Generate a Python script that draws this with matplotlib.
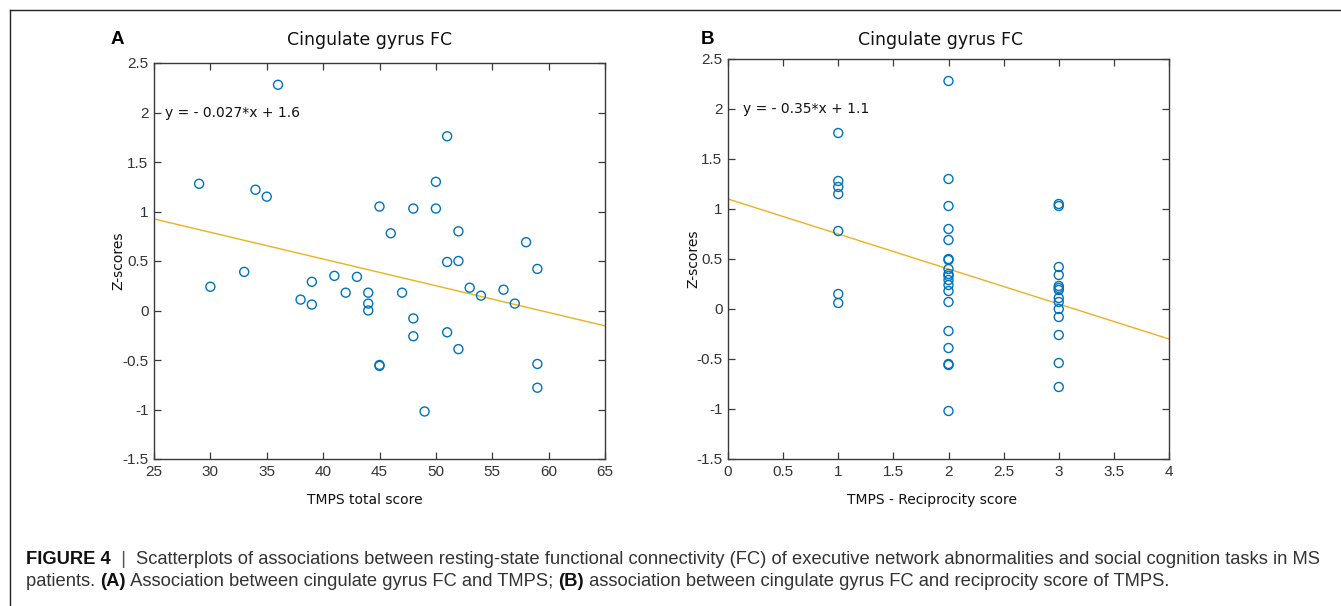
import matplotlib
matplotlib.use('Agg')
import matplotlib.pyplot as plt
from matplotlib.lines import Line2D

# data
total_score = [29, 30, 33, 34, 35, 36, 38, 39, 39, 41, 42, 43, 44, 44, 44, 45, 45, 45, 46, 47,
               48, 48, 48, 49, 50, 50, 51, 51, 51, 52, 52, 52, 53, 54, 56, 57, 58, 59, 59, 59]
z_total = [1.28, 0.24, 0.39, 1.22, 1.15, 2.28, 0.11, 0.29, 0.06, 0.35, 0.18, 0.34, 0.18, 0.07, 0.00,
           1.05, -0.55, -0.56, 0.78, 0.18, 1.03, -0.08, -0.26, -1.02, 1.30, 1.03, 1.76, 0.49, -0.22,
           0.80, 0.50, -0.39, 0.23, 0.15, 0.21, 0.07, 0.69, 0.42, -0.54, -0.78]

recip_score = [1] * 7 + [2] * 19 + [3] * 14
z_recip = [1.76, 1.28, 1.22, 1.15, 0.78, 0.15, 0.06,
           2.28, 1.30, 1.03, 0.80, 0.69, 0.50, 0.49, 0.40, 0.35, 0.33, 0.29, 0.24, 0.18, 0.07,
           -0.22, -0.39, -0.55, -0.56, -1.02,
           1.05, 1.03, 0.42, 0.34, 0.23, 0.21, 0.19, 0.11, 0.07, 0.00, -0.08, -0.26, -0.54, -0.78]

fit_a = (-0.027, 1.6)
fit_b = (-0.35, 1.1)

W, H = 1341, 606
fig = plt.figure(figsize=(W / 100, H / 100), dpi=100)

blue = '#0072BD'
gold = '#EDB120'
axcol = '#3a3a3a'


def px_axes(x0, y0, x1, y1):
    return fig.add_axes([x0 / W, 1 - y1 / H, (x1 - x0) / W, (y1 - y0) / H])


def style(ax, xlim, xticks):
    ax.set_xlim(*xlim)
    ax.set_ylim(-1.5, 2.5)
    ax.set_xticks(xticks)
    ax.set_yticks([-1.5, -1, -0.5, 0, 0.5, 1, 1.5, 2, 2.5])
    ax.set_xticklabels(['%g' % t for t in xticks])
    ax.set_yticklabels(['-1.5', '-1', '-0.5', '0', '0.5', '1', '1.5', '2', '2.5'])
    ax.tick_params(direction='in', top=True, right=True, length=5, width=0.9,
                   colors=axcol, labelsize=11, pad=4)
    for lab in ax.get_xticklabels() + ax.get_yticklabels():
        lab.set_family('Liberation Sans')
        lab.set_color('#333333')
    for s in ax.spines.values():
        s.set_color(axcol)
        s.set_linewidth(1.0)


def panel(ax, x, y, fit, xlim, xticks, xlabel, eq_x, lx):
    a, b = fit
    ax.plot(list(xlim), [a * xlim[0] + b, a * xlim[1] + b], color=gold, lw=1.0, zorder=1)
    ax.scatter(x, y, s=42, facecolors='none', edgecolors=blue, linewidths=1.0, zorder=2)
    style(ax, xlim, xticks)
    eq = 'y = - %g*x + %g' % (-a, b)
    ax.text(eq_x, 2.0, eq, fontsize=10, va='center', ha='left', color='#111111')
    ax.set_xlabel(xlabel, fontsize=10, color='#111111')
    ax.xaxis.set_label_coords(lx, -0.085)
    ax.set_ylabel('Z-scores', fontsize=10, color='#111111')
    ax.yaxis.set_label_coords(-0.063, 0.5)


axA = px_axes(154, 63, 605, 459)
panel(axA, total_score, z_total, fit_a, (25, 65), list(range(25, 70, 5)),
      'TMPS total score', 26, 0.468)

axB = px_axes(728, 59, 1169, 459)
panel(axB, recip_score, z_recip, fit_b, (0, 4), [0, 0.5, 1, 1.5, 2, 2.5, 3, 3.5, 4],
      'TMPS - Reciprocity score', 0.14, 0.463)

for tx in (370, 941):
    fig.text(tx / W, 1 - 40 / H, 'Cingulate gyrus FC', fontsize=12.5, color='#111111',
             ha='center', va='center')

fig.text(117 / W, 1 - 40 / H, 'A', fontsize=13.5, fontweight='bold', family='Liberation Sans',
         ha='center', va='center')
fig.text(708 / W, 1 - 40 / H, 'B', fontsize=13.5, fontweight='bold', family='Liberation Sans',
         ha='center', va='center')

# frame lines round the figure
fig.add_artist(Line2D([9.5 / W, 1], [1 - 10 / H, 1 - 10 / H], transform=fig.transFigure,
                      color='#222222', lw=1.0))
fig.add_artist(Line2D([9.5 / W, 9.5 / W], [1 - 10 / H, 0], transform=fig.transFigure,
                      color='#222222', lw=1.0))

# caption, with bold pieces
cap_font = 'Liberation Sans'
lines = [
    [('FIGURE 4', 'bold', '#111111'), ('  |  ', 'normal', '#555555'),
     ('Scatterplots of associations between resting-state functional connectivity (FC) of '
      'executive network abnormalities and social cognition tasks in MS', 'normal', '#333333')],
    [('patients. ', 'normal', '#333333'), ('(A)', 'bold', '#111111'),
     (' Association between cingulate gyrus FC and TMPS; ', 'normal', '#333333'),
     ('(B)', 'bold', '#111111'),
     (' association between cingulate gyrus FC and reciprocity score of TMPS.', 'normal', '#333333')],
]
line_y = [559, 582]

fig.canvas.draw()
renderer = fig.canvas.get_renderer()


def draw_line(parts, yy, size):
    x = 26
    made = []
    for txt, weight, col in parts:
        t = fig.text(x / W, 1 - yy / H, txt, fontsize=size, fontweight=weight, family=cap_font,
                     color=col, va='center', ha='left')
        made.append(t)
        x += t.get_window_extent(renderer).width
    return made, x


# the reference uses a condensed face; fit the first line to its width instead
trial, end = draw_line(lines[0], line_y[0], 12)
for t in trial:
    t.remove()
size = 12 * (1325 - 26) / (end - 26)
for parts, yy in zip(lines, line_y):
    draw_line(parts, yy, size)

fig.savefig('out.png', dpi=100)
